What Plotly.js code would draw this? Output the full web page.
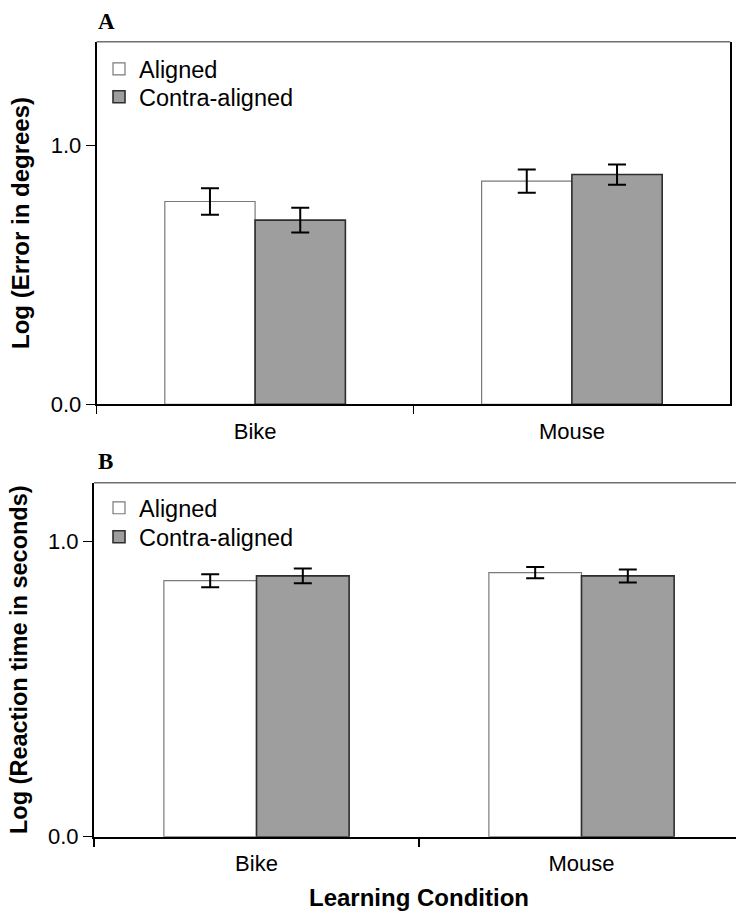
<!DOCTYPE html>
<html>
<head>
<meta charset="utf-8">
<script src="https://cdn.plot.ly/plotly-3.0.1.min.js"></script>
<style>
html,body{margin:0;padding:0;overflow:hidden;background:#fff;width:736px;height:913px;}
#chart{width:750px;height:913px;}
</style>
</head>
<body>
<div id="chart"></div>
<script>
// Data
const conditions = ["Bike", "Mouse"];
const seriesNames = ["Aligned", "Contra-aligned"];
// Panel A: Log (Error in degrees)
const errorAligned = [0.783, 0.862];
const errorAlignedSE = [0.051, 0.045];
const errorContra = [0.711, 0.887];
const errorContraSE = [0.048, 0.039];
// Panel B: Log (Reaction time in seconds)
const rtAligned = [0.868, 0.895];
const rtAlignedSE = [0.022, 0.019];
const rtContra = [0.884, 0.884];
const rtContraSE = [0.025, 0.022];
const yTicks = [0, 1];
const yTickText = ["0.0", "1.0"];

const W = 750, H = 913;
const font = "Liberation Sans, Arial, Helvetica, sans-serif";
const alignedStyle = {color: "#ffffff", line: {color: "#7a7a7a", width: 1.2}};
const contraStyle = {color: "#9e9e9e", line: {color: "#2e2e2e", width: 1.6}};
function errBar(arr) {
  return {type: "data", array: arr, visible: true, color: "#000", thickness: 2, width: 9};
}
const traces = [
  {type: "bar", name: seriesNames[0], x: conditions, y: errorAligned, error_y: errBar(errorAlignedSE),
   marker: alignedStyle, xaxis: "x", yaxis: "y", legend: "legend"},
  {type: "bar", name: seriesNames[1], x: conditions, y: errorContra, error_y: errBar(errorContraSE),
   marker: contraStyle, xaxis: "x", yaxis: "y", legend: "legend2"},
  {type: "bar", name: seriesNames[0], x: conditions, y: rtAligned, error_y: errBar(rtAlignedSE),
   marker: alignedStyle, xaxis: "x2", yaxis: "y2", legend: "legend3"},
  {type: "bar", name: seriesNames[1], x: conditions, y: rtContra, error_y: errBar(rtContraSE),
   marker: contraStyle, xaxis: "x2", yaxis: "y2", legend: "legend4"}
];

function xAxis(domain, anchor, title) {
  const ax = {
    domain: domain, anchor: anchor, type: "category", range: [-0.5, 1.5],
    tickson: "boundaries", ticks: "outside", ticklen: 8, tickwidth: 1.5, tickcolor: "#000",
    showline: true, linecolor: "#000", linewidth: 2, showgrid: false, zeroline: false,
    tickfont: {family: font, size: 22, color: "#000"}, ticklabelstandoff: 6, fixedrange: true
  };
  if (title) ax.title = {text: "<b>" + title + "</b>", font: {family: font, size: 24, color: "#000"}, standoff: 14};
  return ax;
}
function yAxis(domain, anchor, range, title, tsize) {
  return {
    domain: domain, anchor: anchor, range: range, tickvals: yTicks, ticktext: yTickText,
    ticks: "outside", ticklen: 9, tickwidth: 1.5, tickcolor: "#000",
    showline: true, linecolor: "#000", linewidth: 2, mirror: true, showgrid: false, zeroline: false,
    tickfont: {family: font, size: 22, color: "#000"}, ticklabelstandoff: 0,
    title: {text: "<b>" + title + "</b>", font: {family: font, size: tsize, color: "#000"}, standoff: 14},
    fixedrange: true
  };
}
function legendAt(xPx, yPx) {
  return {x: xPx / W, y: 1 - yPx / H, xanchor: "left", yanchor: "middle", bgcolor: "rgba(0,0,0,0)",
    borderwidth: 0, font: {family: font, size: 23.5, color: "#000"}, tracegroupgap: 0, traceorder: "normal"};
}
const layout = {
  width: W, height: H, margin: {l: 0, r: 0, t: 0, b: 0}, paper_bgcolor: "#fff", plot_bgcolor: "#fff",
  barmode: "group", bargap: 0.43, bargroupgap: 0, showlegend: true,
  xaxis: xAxis([96.7 / W, 730.3 / W], "y", null),
  yaxis: yAxis([1 - 404.3 / H, 1 - 41.7 / H], "x", [0, 1.4], "Log (Error in degrees)", 24),
  xaxis2: xAxis([94 / W, 744 / W], "y2", "Learning Condition"),
  yaxis2: yAxis([1 - 836.7 / H, 1 - 482.7 / H], "x2", [0, 1.2], "Log (Reaction time in seconds)", 23.5),
  legend: legendAt(99, 69),
  legend2: legendAt(99, 97),
  legend3: legendAt(99, 508),
  legend4: legendAt(99, 537),
  shapes: [
    {type: "line", xref: "x domain", yref: "y domain", x0: 0, x1: 1, y0: 1, y1: 1, line: {color: "#707070", width: 1.5}},
    {type: "line", xref: "x2 domain", yref: "y2 domain", x0: 0, x1: 1, y0: 1, y1: 1, line: {color: "#707070", width: 1.5}}
  ],
  annotations: [
    {xref: "paper", yref: "paper", x: 96 / W, y: 1 - 22 / H, xanchor: "left", yanchor: "middle", showarrow: false,
     text: "<b>A</b>", font: {family: "Liberation Serif, Times New Roman, serif", size: 23, color: "#000"}},
    {xref: "paper", yref: "paper", x: 96 / W, y: 1 - 462 / H, xanchor: "left", yanchor: "middle", showarrow: false,
     text: "<b>B</b>", font: {family: "Liberation Serif, Times New Roman, serif", size: 23, color: "#000"}}
  ]
};
Plotly.newPlot("chart", traces, layout, {staticPlot: true, displayModeBar: false});
</script>
</body>
</html>
